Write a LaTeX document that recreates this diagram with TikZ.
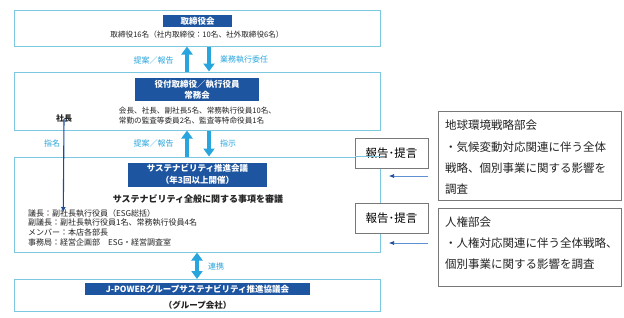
\documentclass[tikz,border=0pt]{standalone}
\usepackage{fontspec}
\setmainfont{Noto Sans CJK JP}
\usetikzlibrary{arrows.meta}
\definecolor{frameblue}{RGB}{125,200,225}
\definecolor{titleblue}{RGB}{30,85,160}
\definecolor{arrblue}{RGB}{40,165,220}
\definecolor{darkarr}{RGB}{25,75,155}
\definecolor{linkblue}{RGB}{95,145,210}
\definecolor{boxgray}{RGB}{120,120,120}
\definecolor{txt}{RGB}{35,35,35}
\newcommand{\fs}[2]{\fontsize{#1}{#2}\selectfont}

\begin{document}
\begin{tikzpicture}[x=1pt,y=-1pt,>=Latex,
  frame/.style={draw=frameblue,line width=1pt,fill=white,inner sep=0pt,minimum width=366pt},
  titlebox/.style={fill=titleblue,text=white,inner sep=0pt,align=center,font=\bfseries\fs{8.5}{11.5}},
  body/.style={text=txt,inner sep=0pt,align=left,font=\fs{7.6}{10}},
  lab/.style={text=arrblue,inner sep=0pt,font=\fs{8}{10}},
  bigarr/.style={draw=arrblue,line width=4.5pt,-{Triangle[width=11pt,length=8pt]}},
  graybox/.style={draw=boxgray,line width=0.7pt,fill=white,inner sep=0pt},
  smallarr/.style={draw=linkblue,line width=0.6pt,-{Latex[length=5pt,width=4pt,color=darkarr]}}]
  \useasboundingbox (0,0) rectangle (624,317);

  % main column
  \node[frame,minimum height=36pt] (board) at (197,28) {};
  \node[frame,minimum height=58pt] (exec) at (197,101) {};
  \node[frame,minimum height=95pt] (conf) at (197,204.5) {};
  \node[frame,minimum height=32pt] (group) at (197,295.5) {};

  \node[titlebox,minimum width=69pt,minimum height=12pt] (boardt) at (197.5,21) {取締役会};
  \node[body] (boardx) at (197,35) {取締役16名（社内取締役：10名、社外取締役6名）};

  \node[titlebox,minimum width=124pt,minimum height=23pt,font=\bfseries\fs{8.5}{11}] (exect) at (197,89.5)
    {役付取締役／執行役員\\常務会};
  \node[body] (execx) at (197.5,116)
    {会長、社長、副社長5名、常務執行役員10名、\\常勤の監査等委員2名、監査等特命役員1名};

  \node[titlebox,minimum width=139pt,minimum height=24pt,font=\bfseries\fs{8.5}{12}] (conft) at (197.5,174.5)
    {サステナビリティ推進会議\\（年3回以上開催）};
  \node[text=txt,inner sep=0pt,font=\bfseries\fs{9}{11}] (confh) at (198,199)
    {サステナビリティ全般に関する事項を審議};
  \node[body,anchor=north west,font=\fs{8}{9.6}] (confx) at (28,209.3)
    {議長：副社長執行役員（ESG総括）\\副議長：副社長執行役員1名、常務執行役員4名\\
     メンバー：本店各部長\\事務局：経営企画部　ESG・経営調査室};

  \node[titlebox,minimum width=225pt,minimum height=12pt] (groupt) at (197.5,289) {J-POWERグループサステナビリティ推進協議会};
  \node[text=txt,inner sep=0pt,font=\bfseries\fs{8.5}{10}] (groupx) at (197.5,305) {（グループ会社）};

  % arrows between the boxes
  \draw[bigarr] ([xshift=-10pt]exec.north) -- ([xshift=-10pt]board.south);
  \draw[bigarr] ([xshift=12pt]board.south) -- ([xshift=12pt]exec.north);
  \draw[bigarr] ([xshift=-10pt]conf.north) -- ([xshift=-10pt]exec.south);
  \draw[bigarr] ([xshift=12pt]exec.south) -- ([xshift=12pt]conf.north);
  \draw[bigarr,{Triangle[width=11pt,length=8pt]}-{Triangle[width=11pt,length=8pt]}] (conf.south) -- (group.north);

  \node[lab] (l1) at (153.5,60) {提案／報告};
  \node[lab,anchor=west] (l2) at (220,60) {業務執行委任};
  \node[lab] (l3) at (153.5,143) {提案／報告};
  \node[lab,anchor=west] (l4) at (220,143) {指示};
  \node[lab,anchor=west] (l5) at (208,266) {連携};

  % president
  \node[text=txt,inner sep=0pt,font=\bfseries\fs{8}{10}] (pres) at (64,118) {社長};
  \coordinate (presend) at (63.3,212);
  \draw[darkarr,line width=1.1pt,-{Latex[length=5pt,width=5pt]}] ([yshift=3pt]pres.south) -- (presend);
  \node[lab] (l6) at (52,143) {指名};

  % right side
  \node[graybox,minimum width=73pt,minimum height=30pt,font=\fs{11.5}{13}] (rep1) at (391.5,153) {報告･提言};
  \node[graybox,minimum width=73pt,minimum height=30pt,font=\fs{11.5}{13}] (rep2) at (391.5,218.3) {報告･提言};
  \draw[frameblue,line width=1pt] (conf.north east) -- (conf.north east -| rep1.west);

  \node[graybox,minimum width=183pt,minimum height=89pt] (globe) at (529.5,156.2) {};
  \node[text=txt,inner sep=0pt,anchor=north west,align=left,font=\fs{11.5}{21.3}] (globex) at (445,120)
    {地球環境戦略部会\\・気候変動対応関連に伴う全体\\戦略、個別事業に関する影響を\\調査};
  \node[graybox,minimum width=183pt,minimum height=78pt] (human) at (529.5,247.8) {};
  \node[text=txt,inner sep=0pt,anchor=north west,align=left,font=\fs{11.5}{21}] (humanx) at (445,216.5)
    {人権部会\\・人権対応関連に伴う全体戦略、\\個別事業に関する影響を調査};

  \coordinate (g1s) at (428,176);
  \coordinate (g1e) at (389,176);
  \coordinate (g2s) at (428,243);
  \coordinate (g2e) at (389,243);
  \draw[smallarr] (g1s) -- (g1e);
  \draw[smallarr] (g2s) -- (g2e);
\end{tikzpicture}
\end{document}
